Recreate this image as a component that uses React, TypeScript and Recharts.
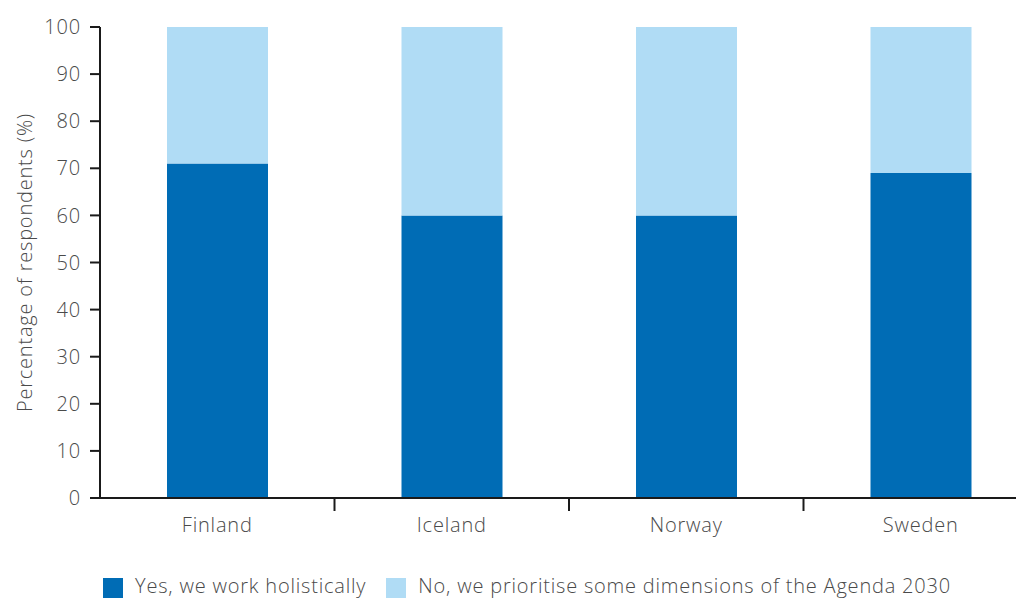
import React from 'react';
import { BarChart, Bar, XAxis, YAxis, Legend } from 'recharts';

const countries = ['Finland', 'Iceland', 'Norway', 'Sweden'];
const yesValues = [71, 60, 60, 69];
const noValues = [29, 40, 40, 31];
const yTicks = [0, 10, 20, 30, 40, 50, 60, 70, 80, 90, 100];
const seriesNames = ['Yes, we work holistically', 'No, we prioritise some dimensions of the Agenda 2030'];

const data = countries.map((c, i) => ({ country: c, yes: yesValues[i], no: noValues[i] }));

const FONT = '"Open Sans", sans-serif';
const TEXT = '#4a4a4a';
const AXIS = '#1a1a1a';

const CategoryTick = (props: any) => {
  const { x, y, payload, width, visibleTicksCount, index } = props;
  const band = width / visibleTicksCount;
  const isLast = index === visibleTicksCount - 1;
  return (
    <g>
      {!isLast && (
        <line x1={x + band / 2} x2={x + band / 2} y1={y - 19} y2={y - 7} stroke={AXIS} strokeWidth={2} />
      )}
      <text
        x={x}
        y={y}
        dy="0.71em"
        textAnchor="middle"
        fill={TEXT}
        fontSize={20}
        fontFamily={FONT}
        fontWeight={300}
        letterSpacing={0.8}
      >
        {payload.value}
      </text>
    </g>
  );
};

export default function App() {
  return (
    <div style={{ width: 1024, height: 599, marginLeft: -8, marginTop: -8, overflow: 'hidden', background: '#fff' }}>
      <BarChart
        width={1106}
        height={599}
        data={data}
        margin={{ top: 27, right: 68, left: 0, bottom: 0 }}
        barCategoryGap={67}
      >
        <XAxis
          dataKey="country"
          axisLine={{ stroke: AXIS, strokeWidth: 2 }}
          tickLine={false}
          tickSize={6}
          tickMargin={14}
          tick={<CategoryTick />}
          interval={0}
          height={74}
        />
        <YAxis
          domain={[0, 100]}
          ticks={yTicks}
          interval={0}
          width={100}
          axisLine={{ stroke: AXIS, strokeWidth: 2 }}
          tickLine={{ stroke: AXIS, strokeWidth: 2 }}
          tickSize={10}
          tickMargin={9}
          tick={{ fill: TEXT, fontSize: 20, fontFamily: FONT, fontWeight: 300, letterSpacing: 0.8 }}
          label={{
            value: 'Percentage of respondents (%)',
            angle: -90,
            position: 'insideLeft',
            offset: 25,
            fill: TEXT,
            fontSize: 20,
            fontFamily: FONT,
            fontWeight: 300,
            letterSpacing: 0.8,
            style: { textAnchor: 'middle' },
          }}
        />
        <Legend
          verticalAlign="bottom"
          align="center"
          iconType="square"
          iconSize={20}
          itemSorter={(item: any) => seriesNames.indexOf(item.value)}
          wrapperStyle={{ fontFamily: FONT, fontSize: 20, fontWeight: 300, letterSpacing: 0.8, paddingLeft: 36, boxSizing: 'border-box' }}
          formatter={(value: string) => (
            <span style={{ color: TEXT, paddingLeft: 8, paddingRight: 10 }}>{value}</span>
          )}
        />
        <Bar dataKey="yes" name={seriesNames[0]} stackId="a" fill="#006cb5" isAnimationActive={false} />
        <Bar dataKey="no" name={seriesNames[1]} stackId="a" fill="#b0dcf5" isAnimationActive={false} />
      </BarChart>
    </div>
  );
}
